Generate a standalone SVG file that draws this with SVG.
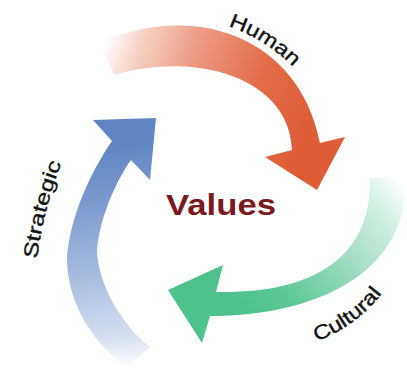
<svg xmlns="http://www.w3.org/2000/svg" width="407" height="383" viewBox="0 0 407 383">
<defs>
<style>
.lbl{font-family:"Liberation Sans","DejaVu Sans",Arial,sans-serif;font-size:20px;fill:#111;stroke:#111;stroke-width:0.35;}
.core{font-family:"Liberation Sans",Arial,sans-serif;font-size:30px;font-weight:bold;fill:#7A1A1F;}
</style>
<linearGradient id="gRed" gradientUnits="userSpaceOnUse" x1="100" y1="55" x2="310" y2="130">
<stop offset="0" stop-color="#FFFFFF"/>
<stop offset="0.16" stop-color="#F6D0C4"/>
<stop offset="0.4" stop-color="#EC9A82"/>
<stop offset="0.72" stop-color="#E36B49"/>
<stop offset="1" stop-color="#DE5C36"/>
</linearGradient>
<linearGradient id="gGreen" gradientUnits="userSpaceOnUse" x1="392" y1="172" x2="240" y2="305">
<stop offset="0" stop-color="#FFFFFF"/>
<stop offset="0.15" stop-color="#D6F1E5"/>
<stop offset="0.45" stop-color="#9FDDC1"/>
<stop offset="0.8" stop-color="#5DC796"/>
<stop offset="1" stop-color="#4EC28C"/>
</linearGradient>
<linearGradient id="gBlue" gradientUnits="userSpaceOnUse" x1="140" y1="368" x2="115" y2="145">
<stop offset="0" stop-color="#FFFFFF"/>
<stop offset="0.15" stop-color="#D5DFEF"/>
<stop offset="0.45" stop-color="#A5BADF"/>
<stop offset="0.78" stop-color="#7898CD"/>
<stop offset="1" stop-color="#5F86C2"/>
</linearGradient>
<path id="pHuman" d="M228.3,26.3 A170,170 0 0 1 299,73"/>
<path id="pCultural" d="M316.6,341.3 A145,145 0 0 0 392.6,277.5"/>
<path id="pStrategic" d="M37,259 Q44,205 65,155"/>
</defs>
<rect width="407" height="383" fill="#FFFFFF"/>
<g id="connectors">
<g id="arrow-human">
<path fill="url(#gRed)" d="M100,42 C200,0 300,40 320,143 L345,137 L317,190 L265,157 L292,150 C290,80 200,50 114,75 Z"/>
</g>
<g id="arrow-cultural">
<path fill="url(#gGreen)" d="M405,178 C410,270 320,316 210,316 L202,343 L168,290 L223,265 L216,292 C310,294 372,260 370,178 Z"/>
</g>
<g id="arrow-strategic">
<path fill="url(#gBlue)" d="M127,367 C95,345 67,305 67,258 C70,215 92,170 112,141 L93,120 L156,118 L150,180 L131,160 C118,178 100,215 97,250 C98,285 122,325 150,347 Z"/>
</g>
</g>
<g id="node-values">
<text class="core" x="166" y="215" textLength="110" lengthAdjust="spacingAndGlyphs">Values</text>
</g>
<g id="label-human">
<text class="lbl"><textPath href="#pHuman" textLength="77" lengthAdjust="spacingAndGlyphs">Human</textPath></text>
</g>
<g id="label-cultural">
<text class="lbl"><textPath href="#pCultural" textLength="82" lengthAdjust="spacingAndGlyphs">Cultural</textPath></text>
</g>
<g id="label-strategic">
<text class="lbl"><textPath href="#pStrategic" textLength="99" lengthAdjust="spacingAndGlyphs">Strategic</textPath></text>
</g>
</svg>
